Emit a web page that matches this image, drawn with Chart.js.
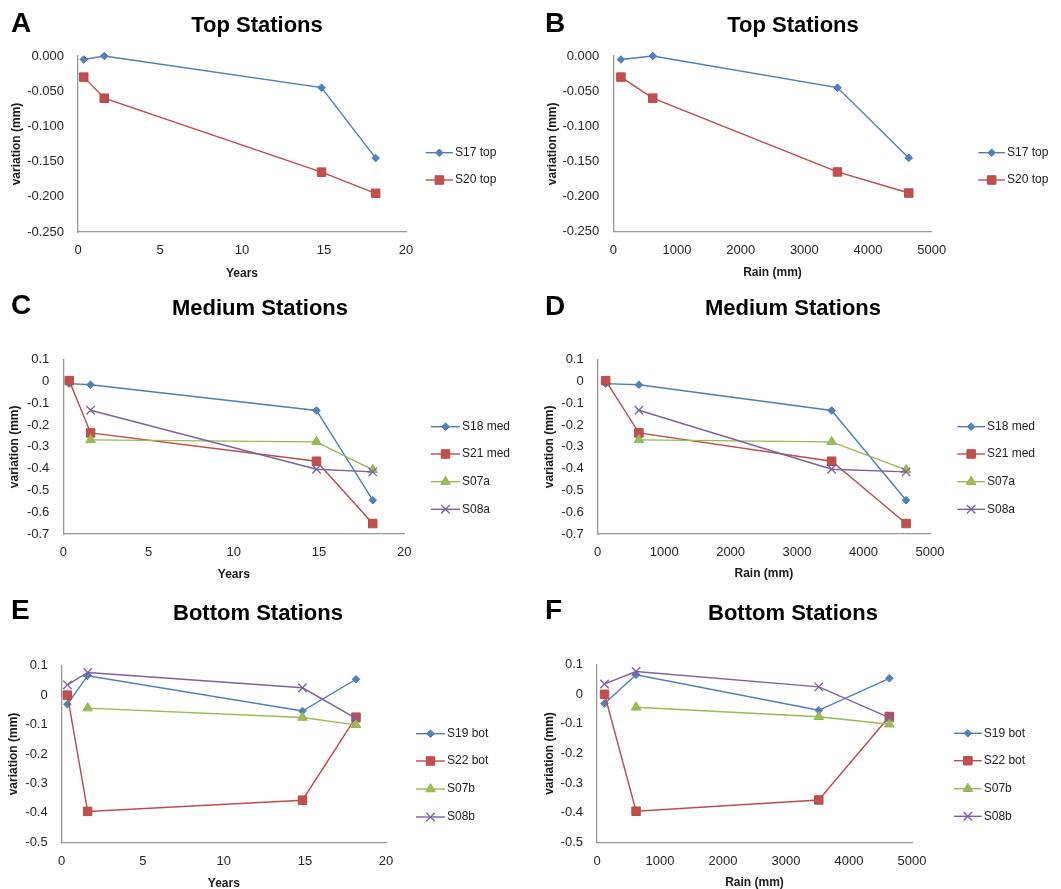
<!DOCTYPE html>
<html>
<head>
<meta charset="utf-8">
<title>Stations</title>
<script src="https://cdn.jsdelivr.net/npm/chart.js@4.4.1/dist/chart.umd.min.js"></script>
<style>
  body { margin: 0; background: #fff; }
  #page { position: relative; width: 1061px; height: 889px; overflow: hidden; font-family: "Liberation Sans", Arial, sans-serif; }
  #page canvas { position: absolute; }
  .letter { position: absolute; font-size: 28px; font-weight: bold; line-height: 1; color: #000; }
  .title { position: absolute; width: 300px; text-align: center; font-size: 22px; font-weight: bold; line-height: 1; color: #000; }
</style>
</head>
<body>
<div id="page">
  <canvas id="chartA" width="530" height="290" style="left:0;top:0"></canvas>
  <canvas id="chartB" width="531" height="290" style="left:530px;top:0"></canvas>
  <canvas id="chartC" width="530" height="300" style="left:0;top:290px"></canvas>
  <canvas id="chartD" width="531" height="300" style="left:530px;top:290px"></canvas>
  <canvas id="chartE" width="530" height="302" style="left:0;top:590px"></canvas>
  <canvas id="chartF" width="531" height="302" style="left:530px;top:590px"></canvas>

  <div class="letter" style="left:11px;top:9px">A</div>
  <div class="letter" style="left:545px;top:9px">B</div>
  <div class="letter" style="left:11px;top:291px">C</div>
  <div class="letter" style="left:545px;top:292px">D</div>
  <div class="letter" style="left:11px;top:596px">E</div>
  <div class="letter" style="left:545px;top:596px">F</div>

  <div class="title" style="left:107px;top:14px">Top Stations</div>
  <div class="title" style="left:643px;top:14px">Top Stations</div>
  <div class="title" style="left:110px;top:297px">Medium Stations</div>
  <div class="title" style="left:643px;top:297px">Medium Stations</div>
  <div class="title" style="left:108px;top:602px">Bottom Stations</div>
  <div class="title" style="left:643px;top:602px">Bottom Stations</div>
</div>
<script>
// x values: time since start and cumulated rain
const years = [0.35, 1.6, 14.85, 18.15];
const rain = [120, 620, 3520, 4640];

// axis ticks
const yearTicks = [0, 5, 10, 15, 20];
const rainTicks = [0, 1000, 2000, 3000, 4000, 5000];
const topTicks = [-0.25, -0.2, -0.15, -0.1, -0.05, 0];
const medTicks = [-0.7, -0.6, -0.5, -0.4, -0.3, -0.2, -0.1, 0, 0.1];
const botTicks = [-0.5, -0.4, -0.3, -0.2, -0.1, 0, 0.1];

// top stations
const topNames = ['S17 top', 'S20 top'];
const s17top = [-0.005, 0.000, -0.045, -0.145];
const s20top = [-0.030, -0.060, -0.165, -0.195];

// medium stations
const medNames = ['S18 med', 'S21 med', 'S07a', 'S08a'];
const s18med = [-0.010, -0.015, -0.133, -0.545];
const s21med = [0.004, -0.236, -0.366, -0.652];
const s07a = [null, -0.268, -0.277, -0.406];
const s08a = [null, -0.132, -0.403, -0.415];

// bottom stations
const botNames = ['S19 bot', 'S22 bot', 'S07b', 'S08b'];
const s19bot = [-0.031, 0.066, -0.054, 0.054];
const s22bot = [0.000, -0.395, -0.357, -0.075];
const s07b = [null, -0.044, -0.076, -0.101];
const s08b = [0.035, 0.077, 0.025, -0.079];

// excel 2007 look
const looks = [
  { line: '#4A7EBB', fill: '#4F81BD', edge: '#4A7EBB', shape: 'rectRot', r: 3.8 },
  { line: '#BE4B48', fill: '#C0504D', edge: '#B84A47', shape: 'rect', r: 6 },
  { line: '#98B954', fill: '#9BBB59', edge: '#93B353', shape: 'triangle', r: 5.5 },
  { line: '#7D60A0', fill: '#8064A2', edge: '#7D60A0', shape: 'crossRot', r: 6 }
];

Chart.defaults.font.family = '"Liberation Sans", Arial, sans-serif';

// legend like excel: short line with the marker in the middle
const excelLegend = {
  id: 'excelLegend',
  afterDraw(chart, args, opts) {
    const ctx = chart.ctx;
    ctx.save();
    chart.data.datasets.forEach((ds, i) => {
      const y = opts.rows[i];
      ctx.strokeStyle = ds.borderColor;
      ctx.lineWidth = ds.borderWidth;
      ctx.beginPath();
      ctx.moveTo(opts.x1, y);
      ctx.lineTo(opts.x2, y);
      ctx.stroke();
      ctx.fillStyle = ds.pointBackgroundColor;
      ctx.strokeStyle = ds.pointBorderColor;
      ctx.lineWidth = ds.pointBorderWidth;
      Chart.helpers.drawPoint(ctx, {
        pointStyle: ds.pointStyle, radius: ds.pointRadius, rotation: 0, borderWidth: ds.pointBorderWidth
      }, (opts.x1 + opts.x2) / 2, y);
      ctx.fillStyle = '#222';
      ctx.font = '12px "Liberation Sans", Arial, sans-serif';
      ctx.textAlign = 'left';
      ctx.textBaseline = 'middle';
      ctx.fillText(ds.label, opts.x2 + 2, y);
    });
    ctx.restore();
  }
};

function drawPanel(id, xs, xTicks, xTitle, yTicks, yFormat, names, series, box) {
  const canvas = document.getElementById(id);
  const W = canvas.width, H = canvas.height;
  const half = 7.2; // half line height of the axis titles

  const datasets = series.map((vals, i) => {
    const lk = looks[i];
    return {
      label: names[i],
      data: xs.map((x, k) => ({ x: x, y: vals[k] })).filter(p => p.y !== null),
      showLine: true,
      borderColor: lk.line,
      borderWidth: 1.4,
      pointStyle: lk.shape,
      pointRadius: lk.r,
      pointHoverRadius: lk.r,
      pointBackgroundColor: lk.fill,
      pointBorderColor: lk.edge,
      pointBorderWidth: lk.shape === 'crossRot' ? 1.3 : 1,
      clip: false,
      order: -i
    };
  });

  return new Chart(canvas.getContext('2d'), {
    type: 'scatter',
    data: { datasets: datasets },
    plugins: [excelLegend],
    options: {
      responsive: false,
      animation: false,
      events: [],
      layout: {
        padding: {
          left: box.yTitleX - half,
          top: box.top,
          right: W - box.right,
          bottom: H - box.xTitleY - half
        }
      },
      plugins: {
        legend: { display: false },
        tooltip: { enabled: false },
        excelLegend: { x1: box.lx1, x2: box.lx2, rows: box.rows }
      },
      scales: {
        x: {
          type: 'linear',
          min: xTicks[0],
          max: xTicks[xTicks.length - 1],
          grid: { display: false, drawTicks: false },
          border: { display: true, color: '#999', width: 1.3 },
          ticks: { padding: 11, color: '#262626', font: { size: 13 }, callback: v => String(v) },
          afterBuildTicks: s => { s.ticks = xTicks.map(v => ({ value: v })); },
          afterFit: s => { s.height = box.xTitleY + half - box.bottom; },
          title: { display: true, text: xTitle, padding: 0, color: '#1a1a1a', font: { size: 12, weight: 'bold' } }
        },
        y: {
          type: 'linear',
          min: yTicks[0],
          max: yTicks[yTicks.length - 1],
          grid: { display: false, drawTicks: false },
          border: { display: true, color: '#999', width: 1.3 },
          ticks: { padding: 14, color: '#262626', font: { size: 13 }, callback: yFormat },
          afterBuildTicks: s => { s.ticks = yTicks.map(v => ({ value: v })); },
          afterFit: s => { s.width = box.left - (box.yTitleX - half); },
          title: { display: true, text: 'variation (mm)', padding: 0, color: '#1a1a1a', font: { size: 12, weight: 'bold' } }
        }
      }
    }
  });
}

const fmt3 = v => v.toFixed(3);
const fmt1 = v => String(Math.round(v * 10) / 10);

// A, B
drawPanel('chartA', years, yearTicks, 'Years', topTicks, fmt3, topNames, [s17top, s20top],
  { left: 78, right: 406, top: 56, bottom: 232, yTitleX: 17, xTitleY: 273.3, lx1: 425.7, lx2: 453, rows: [152.7, 180] });
drawPanel('chartB', rain, rainTicks, 'Rain (mm)', topTicks, fmt3, topNames, [s17top, s20top],
  { left: 83.3, right: 401.7, top: 56, bottom: 231.7, yTitleX: 22.7, xTitleY: 272.7, lx1: 448.3, lx2: 475, rows: [152.7, 180] });

// C, D
drawPanel('chartC', years, yearTicks, 'Years', medTicks, fmt1, medNames, [s18med, s21med, s07a, s08a],
  { left: 63.3, right: 404.3, top: 69.7, bottom: 244, yTitleX: 15, xTitleY: 285, lx1: 431, lx2: 460, rows: [136.7, 164, 191.7, 219.3] });
drawPanel('chartD', rain, rainTicks, 'Rain (mm)', medTicks, fmt1, medNames, [s18med, s21med, s07a, s08a],
  { left: 67.7, right: 400, top: 69.7, bottom: 244, yTitleX: 20, xTitleY: 284, lx1: 427.3, lx2: 455, rows: [136.7, 164, 191.7, 219.3] });

// E, F
drawPanel('chartE', years, yearTicks, 'Years', botTicks, fmt1, botNames, [s19bot, s22bot, s07b, s08b],
  { left: 61.7, right: 386, top: 75.7, bottom: 252.3, yTitleX: 14, xTitleY: 293.3, lx1: 416, lx2: 445, rows: [143.7, 171, 199, 227] });
drawPanel('chartF', rain, rainTicks, 'Rain (mm)', botTicks, fmt1, botNames, [s19bot, s22bot, s07b, s08b],
  { left: 67, right: 382, top: 74.7, bottom: 252.3, yTitleX: 20, xTitleY: 292.3, lx1: 424, lx2: 451.7, rows: [143.3, 170.7, 198.7, 226.3] });
</script>
</body>
</html>
